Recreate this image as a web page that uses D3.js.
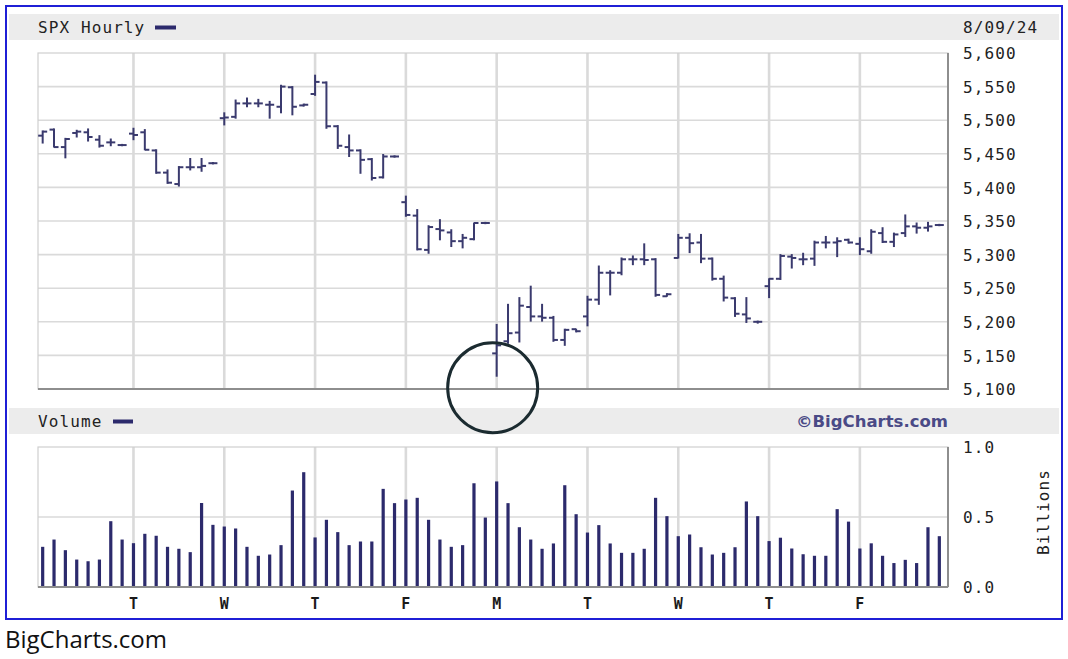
<!DOCTYPE html>
<html><head><meta charset="utf-8">
<script src="https://cdn.jsdelivr.net/npm/d3@7"></script>
<style>body{margin:0;background:#fff}</style>
</head><body><svg id="c" width="1068" height="659"></svg>
<script>
// ---- data ----
const barOpen  = [5477,5486,5460,5481,5482,5471,5467,5463, 5480,5482,5455,5422,5405,5430,5430,5436,
  5503,5505,5525,5525,5523,5520,5549,5522, 5539,5556,5491,5460,5455,5442,5415,5446,
  5378,5358,5307,5338,5333,5320,5323,5347, 5153,5171,5184,5222,5208,5206,5173,5189,
  5208,5233,5273,5273,5293,5293,5293,5238, 5295,5325,5318,5294,5264,5235,5211,5200,
  5253,5264,5297,5293,5294,5318,5318,5322, 5316,5305,5332,5319,5332,5342,5340,5344];
const barHigh  = [5484,5487,5473,5485,5487,5477,5472,5464, 5488,5486,5456,5426,5431,5443,5443,5437,
  5511,5530,5533,5531,5528,5552,5550,5524, 5567,5557,5492,5478,5456,5443,5449,5447,
  5387,5367,5343,5352,5337,5330,5347,5348, 5196,5226,5236,5253,5226,5208,5189,5189,
  5238,5283,5276,5295,5298,5316,5294,5242, 5330,5331,5330,5295,5268,5236,5236,5201,
  5264,5300,5300,5302,5320,5327,5325,5323, 5325,5337,5340,5332,5359,5347,5348,5345];
const barLow   = [5466,5460,5444,5475,5469,5460,5462,5462, 5471,5456,5421,5406,5402,5426,5424,5435,
  5493,5503,5520,5520,5503,5511,5508,5521, 5537,5488,5458,5446,5421,5411,5414,5445,
  5357,5307,5302,5322,5312,5310,5322,5346, 5119,5168,5170,5201,5201,5171,5165,5185,
  5194,5226,5240,5270,5285,5285,5238,5238, 5295,5303,5288,5262,5231,5208,5199,5198,
  5236,5263,5280,5285,5284,5310,5297,5317, 5300,5302,5318,5312,5327,5332,5335,5343];
const barClose = [5483,5460,5472,5483,5475,5462,5467,5463, 5478,5456,5422,5407,5430,5430,5432,5436,
  5504,5525,5525,5525,5523,5550,5520,5523, 5557,5491,5462,5455,5441,5414,5446,5446,
  5359,5308,5341,5336,5320,5325,5347,5347, 5165,5183,5224,5208,5206,5173,5188,5186,
  5233,5273,5273,5293,5293,5292,5240,5241, 5325,5317,5294,5264,5236,5212,5205,5200,
  5264,5298,5295,5293,5318,5318,5320,5318, 5308,5334,5319,5330,5342,5340,5342,5344];
const volume   = [0.287,0.339,0.263,0.196,0.184,0.196,0.470,0.339, 0.313,0.380,0.366,0.287,0.273,0.249,0.600,0.444,
  0.432,0.418,0.287,0.223,0.232,0.299,0.689,0.820, 0.354,0.480,0.392,0.299,0.325,0.325,0.701,0.599,
  0.625,0.637,0.480,0.339,0.287,0.299,0.741,0.496, 0.754,0.599,0.427,0.339,0.273,0.311,0.727,0.520,
  0.389,0.442,0.311,0.244,0.244,0.273,0.637,0.506, 0.363,0.375,0.284,0.232,0.244,0.284,0.611,0.506,
  0.328,0.352,0.275,0.234,0.223,0.223,0.556,0.467, 0.275,0.312,0.223,0.171,0.194,0.171,0.427,0.363];
const dayLabels = ["T","W","T","F","M","T","W","T","F"];
const dayStartBar = [8,16,24,32,40,48,56,64,72];
const priceTicks = [5100,5150,5200,5250,5300,5350,5400,5450,5500,5550,5600];
const volTicks = [0.0,0.5,1.0];
const chartTitle = "SPX Hourly";
const chartDate = "8/09/24";

// ---- layout ----
const svg = d3.select("#c");
const mono = "'DejaVu Sans Mono', monospace";
const barColor = "#3a3a6e", volColor = "#2c2a6c", gridColor = "#dadada";
const P = {l:38, r:948, t:53, b:389};
const V = {l:38, r:948, t:447, b:587};
const n = barOpen.length;
const x = d3.scaleBand().domain(d3.range(n)).range([37, 945]);
const xc = i => x(i) + x.bandwidth()/2;
const yP = d3.scaleLinear().domain([5100,5600]).range([P.b, P.t]);
const yV = d3.scaleLinear().domain([0,1]).range([V.b, V.t]);

// outer blue border
svg.append("rect").attr("x",6).attr("y",6).attr("width",1056).attr("height",613)
  .attr("fill","#fff").attr("stroke","#1f1fd6").attr("stroke-width",2);
// header bands
svg.append("rect").attr("x",9).attr("y",14).attr("width",1050).attr("height",26).attr("fill","#ececec");
svg.append("rect").attr("x",9).attr("y",408).attr("width",1050).attr("height",26).attr("fill","#ececec");

const txt = (t,xx,yy,opts={}) => {
  const e = svg.append("text").attr("x",xx).attr("y",yy).text(t)
    .attr("font-family", opts.family||mono).attr("font-size", opts.size||16)
    .attr("fill", opts.fill||"#222").attr("letter-spacing", opts.ls!=null?opts.ls:1.1);
  if (opts.weight) e.attr("font-weight", opts.weight);
  if (opts.anchor) e.attr("text-anchor", opts.anchor);
  return e;
};
txt(chartTitle, 38, 33);
svg.append("rect").attr("x",155).attr("y",25.5).attr("width",21).attr("height",4).attr("fill",volColor);
txt(chartDate, 963, 33);
txt("Volume", 38, 427);
svg.append("rect").attr("x",113).attr("y",419.5).attr("width",20).attr("height",4).attr("fill",volColor);
txt("\u00a9BigCharts.com", 948, 427, {family:"'DejaVu Sans', sans-serif", size:16.5, weight:"bold", fill:"#4a4a86", ls:0, anchor:"end"});

// ---- price panel ----
const gP = svg.append("g");
gP.selectAll("line.h").data(priceTicks.slice(1,-1)).join("line")
  .attr("x1",P.l).attr("x2",P.r).attr("y1",d=>yP(d)).attr("y2",d=>yP(d))
  .attr("stroke",gridColor).attr("stroke-width",1.6);
gP.selectAll("line.v").data(dayStartBar).join("line")
  .attr("x1",d=>xc(d)).attr("x2",d=>xc(d)).attr("y1",P.t).attr("y2",P.b)
  .attr("stroke",gridColor).attr("stroke-width",2.6);
gP.append("rect").attr("x",P.l).attr("y",P.t).attr("width",P.r-P.l).attr("height",P.b-P.t)
  .attr("fill","none").attr("stroke","#cfcfcf").attr("stroke-width",1.2);
gP.append("path").attr("d",`M${P.r},${P.t}V${P.b}H${P.l}`).attr("fill","none").attr("stroke","#8e8e8e").attr("stroke-width",2);

const bars = gP.selectAll("g.bar").data(d3.range(n)).join("g").attr("stroke",barColor).attr("stroke-width",2);
bars.append("line").attr("x1",xc).attr("x2",xc).attr("y1",i=>yP(barHigh[i])-0.5).attr("y2",i=>yP(barLow[i])+0.5);
bars.append("line").attr("x1",i=>xc(i)-4.5).attr("x2",xc).attr("y1",i=>yP(barOpen[i])).attr("y2",i=>yP(barOpen[i]));
bars.append("line").attr("x1",xc).attr("x2",i=>xc(i)+4.5).attr("y1",i=>yP(barClose[i])).attr("y2",i=>yP(barClose[i]));

const axP = svg.append("g").attr("transform",`translate(963,0)`)
  .call(d3.axisRight(yP).tickValues(priceTicks).tickFormat(d3.format(",")).tickSize(0).tickPadding(0));
axP.select(".domain").remove();
axP.selectAll("text").attr("font-family",mono).attr("font-size",16).attr("fill","#222")
  .attr("letter-spacing",1.1).attr("dy","0.35em");

// ---- volume panel ----
const gV = svg.append("g");
gV.selectAll("line.h").data(volTicks.slice(1,-1)).join("line")
  .attr("x1",V.l).attr("x2",V.r).attr("y1",d=>yV(d)).attr("y2",d=>yV(d))
  .attr("stroke",gridColor).attr("stroke-width",1.6);
gV.selectAll("line.v").data(dayStartBar).join("line")
  .attr("x1",d=>xc(d)).attr("x2",d=>xc(d)).attr("y1",V.t).attr("y2",V.b)
  .attr("stroke",gridColor).attr("stroke-width",2.6);
gV.append("rect").attr("x",V.l).attr("y",V.t).attr("width",V.r-V.l).attr("height",V.b-V.t)
  .attr("fill","none").attr("stroke","#cfcfcf").attr("stroke-width",1.2);
gV.append("path").attr("d",`M${V.r},${V.t}V${V.b}`).attr("fill","none").attr("stroke","#8e8e8e").attr("stroke-width",2);
gV.selectAll("rect.vb").data(volume).join("rect")
  .attr("x",(d,i)=>xc(i)-1.6).attr("width",3.2).attr("y",d=>yV(d)).attr("height",d=>yV(0)-yV(d))
  .attr("fill",volColor);
gV.append("line").attr("x1",V.l).attr("x2",V.r).attr("y1",V.b).attr("y2",V.b).attr("stroke","#8e8e8e").attr("stroke-width",2);

const axV = svg.append("g").attr("transform",`translate(963,0)`)
  .call(d3.axisRight(yV).tickValues(volTicks).tickFormat(d3.format(".1f")).tickSize(0).tickPadding(0));
axV.select(".domain").remove();
axV.selectAll("text").attr("font-family",mono).attr("font-size",16).attr("fill","#222")
  .attr("letter-spacing",1.1).attr("dy","0.35em");
txt("Billions", 0, 0, {anchor:"middle"}).attr("transform","translate(1049,512) rotate(-90)");

// day labels
svg.selectAll("text.day").data(dayLabels).join("text")
  .attr("x",(d,i)=>xc(dayStartBar[i])).attr("y",608.5).attr("text-anchor","middle")
  .attr("font-family",mono).attr("font-size",15).attr("font-weight","bold").attr("fill","#1a1a1a").text(d=>d);

// annotation circle around Monday low
svg.append("circle").attr("cx",xc(40)-4).attr("cy",yP(5102)).attr("r",45)
  .attr("fill","none").attr("stroke","#1b2b30").attr("stroke-width",3);

// source
svg.append("text").attr("x",5).attr("y",648).text("BigCharts.com")
  .attr("font-family","'Open Sans', 'Noto Sans', sans-serif").attr("font-size",24).attr("fill","#111");
</script></body></html>
